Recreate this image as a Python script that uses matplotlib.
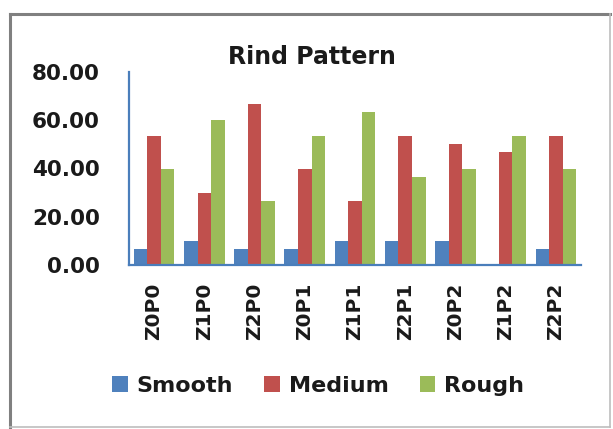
import matplotlib
matplotlib.use("Agg")
import matplotlib.pyplot as plt
import numpy as np
from matplotlib.lines import Line2D

categories = ["Z0P0", "Z1P0", "Z2P0", "Z0P1", "Z1P1", "Z2P1", "Z0P2", "Z1P2", "Z2P2"]
smooth = [6.67, 10.00, 6.67, 6.67, 10.00, 10.00, 10.00, 0.00, 6.67]
medium = [53.33, 30.00, 66.67, 40.00, 26.67, 53.33, 50.00, 46.67, 53.33]
rough = [40.00, 60.00, 26.67, 53.33, 63.33, 36.67, 40.00, 53.33, 40.00]
series_names = ["Smooth", "Medium", "Rough"]
y_ticks = [0, 20, 40, 60, 80]

colors = ["#4F81BD", "#C0504D", "#9BBB59"]
axis_blue = "#4A7EBB"

plt.rcParams["font.family"] = ["DejaVu Sans"]
plt.rcParams["font.weight"] = "bold"

W, H = 613, 429
fig = plt.figure(figsize=(W / 100, H / 100), dpi=100)
ax = fig.add_axes([129 / W, 1 - 265 / H, (581 - 129) / W, (265 - 72) / H])

x = np.arange(len(categories))
bw = 0.27
for i, (vals, name) in enumerate(zip([smooth, medium, rough], series_names)):
    ax.bar(x + (i - 1) * bw, vals, width=bw, color=colors[i], label=name, zorder=2)

ax.set_xlim(-0.5, len(categories) - 0.5)
ax.set_ylim(0, 80)
ax.set_yticks(y_ticks)
ax.set_yticklabels([f"{v:.2f}" for v in y_ticks], fontsize=15.5, fontweight="bold")
ax.set_xticks(x)
ax.set_xticklabels(categories, rotation=90, fontsize=14.5, fontweight="bold")
ax.tick_params(axis="y", length=0, pad=21, colors="#1a1a1a")
ax.tick_params(axis="x", length=0, pad=13, colors="#1a1a1a")

for side in ["top", "right"]:
    ax.spines[side].set_visible(False)
for side in ["left", "bottom"]:
    ax.spines[side].set_color(axis_blue)
    ax.spines[side].set_linewidth(1.6)

fig.text(312 / W, 1 - 57 / H, "Rind Pattern", ha="center", va="center",
         fontsize=17, fontweight="bold", color="#1a1a1a")

handles, labels = ax.get_legend_handles_labels()
leg = fig.legend(handles, labels, loc="center", bbox_to_anchor=(318 / W, 1 - 386 / H),
                 ncol=3, frameon=False, fontsize=16, handlelength=0.7, handleheight=0.7,
                 handletextpad=0.4, columnspacing=1.4, borderaxespad=0)
for t in leg.get_texts():
    t.set_fontweight("bold")
    t.set_color("#1a1a1a")

# chart frame
fig.add_artist(Line2D([10 / W, 10 / W], [1 - 14 / H, 1 - 427 / H], color="#808080", lw=2.2))
fig.add_artist(Line2D([10 / W, 610 / W], [1 - 14 / H, 1 - 14 / H], color="#808080", lw=2.2))
fig.add_artist(Line2D([610 / W, 610 / W], [1 - 14 / H, 1 - 427 / H], color="#BDBDBD", lw=1.2))
fig.add_artist(Line2D([10 / W, 610 / W], [1 - 427 / H, 1 - 427 / H], color="#BDBDBD", lw=1.2))

fig.savefig("out.png", dpi=100)
